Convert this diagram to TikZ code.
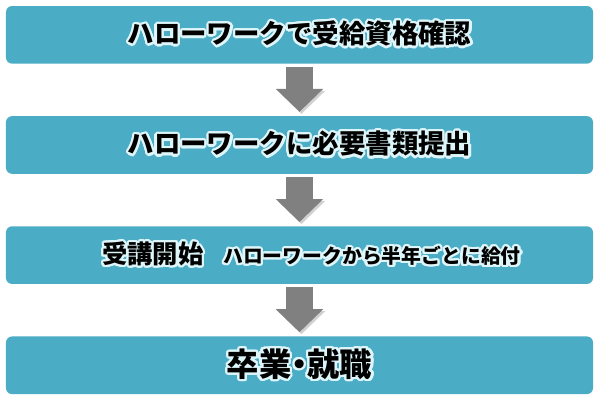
\documentclass[tikz,border=0pt]{standalone}
\usepackage{fontspec}
\setmainfont{Noto Sans CJK JP}
\usepackage{contour}
\usetikzlibrary{arrows.meta,positioning}
\definecolor{stepblue}{RGB}{75,172,198}
\definecolor{arrowgray}{RGB}{128,128,128}
\definecolor{glowwhite}{RGB}{222,246,250}
\contourlength{1.6pt}
\contournumber{24}
\newcommand{\glow}[1]{\contour{glowwhite}{#1}}
\newcommand{\bigjp}{\fontsize{18.8}{22}\selectfont\bfseries}

\begin{document}
\begin{tikzpicture}[
    node distance=1.3cm,
    stepbox/.style={fill=stepblue, rounded corners=0.15cm, minimum width=14.675cm,
      minimum height=1.44cm, inner sep=0pt, text=black},
    flow/.style={draw=arrowgray, line width=0.675cm,
      -{Triangle[length=0.575cm,width=1.15cm]},
      preaction={draw=black!18, transform canvas={shift={(0.05cm,-0.05cm)}}}}
  ]
  \useasboundingbox (0,0) rectangle (15,-10.125);

  \node[stepbox] (check) at (7.4875,-0.87) {\bigjp\glow{ハローワークで受給資格確認}};
  \node[stepbox, below=of check] (papers) {\bigjp\glow{ハローワークに必要書類提出}};
  \node[stepbox, below=of papers] (course) {\hspace*{0.6cm}\bfseries
    \glow{{\fontsize{18}{22}\selectfont 受講開始}{\fontsize{14.1}{18}\selectfont 　ハローワークから半年ごとに給付}}};
  \node[stepbox, below=of course] (job) {\fontsize{23}{26}\selectfont\bfseries
    \addfontfeatures{RawFeature=+palt}\glow{卒業・就職}};

  \draw[flow] ([yshift=-0.09cm]check.south) -- ([yshift=0.1cm]papers.north);
  \draw[flow] ([yshift=-0.08cm]papers.south) -- ([yshift=0.1cm]course.north);
  \draw[flow] ([yshift=-0.08cm]course.south) -- ([yshift=0.1cm]job.north);
\end{tikzpicture}
\end{document}
